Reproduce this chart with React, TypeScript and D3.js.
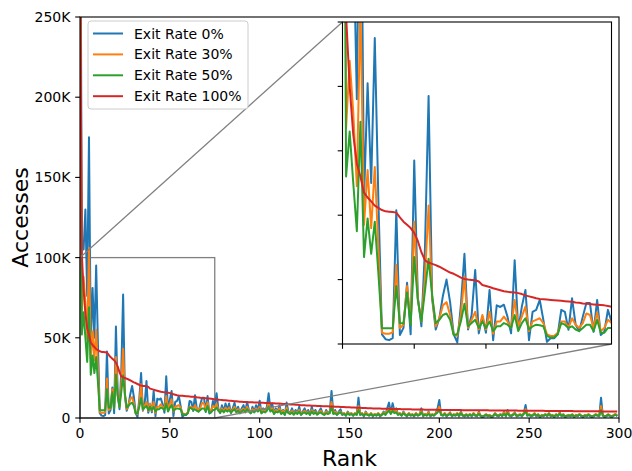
import React from "react";
import * as d3 from "d3";

// values in thousands of accesses, index = rank
const blue = [
  400,110,105,130,76,175,45,81,50,95,
  45,3,1.5,1.2,1.8,41.5,2.8,5,19,3,
  57,14.5,5.5,30,77,14,4.5,8,15,20,
  13,3,0.5,12,28,4.5,9,23,3.3,8.5,
  3.5,16.8,1.2,12,11.5,12.2,8.5,3.3,26,4.4,
  11.6,16.8,1.2,10,10.6,13.7,7.5,0.7,1.8,1.8,
  3,10.6,10,4.4,14.2,6,4,8.5,12.7,12.7,
  3.8,13.7,2.8,3.8,10.6,7,
  15.5,6,3,8,4,9,5,9,3,6,
  9.5,4,7,3,6,8,4,10,5,3,
  7,4,8,5,10.8,3,6,4,7,15.4,
  5,9,3,6,4,8,3,5,2,9.6,
  4,3,6,2.5,5,3,7,2,4,6,
  3,5,2,7,3,5,2.5,4,6,3,
  2,5,3,4,16.9,3,5,2,4,5.4,
  2,3,1.5,4,2,3,1.5,3,2,12.7,
  2,3,1,4,2,1.5,3,1,2.5,1.5,
  3,1,2,4,2,6,9.6,3,9.2,4,
  6,2,3,1.5,4,2,1,3,1.5,2,
  1,3,1.5,2,6,1,2.5,1.5,4,1,
  2,1.5,3,6,11.2,2,1.5,3,1,2,
  3.5,1,2,1.5,3,1,4,1.5,1,2,
  1,2.5,1,3,1.5,1,4,1,0.5,1,
  2,1,1.5,0.5,1,3,1.5,1,2.5,1,
  4,1,5,1.5,1,2,3.5,1,1.5,2,
  1,3,8.1,1.5,2,1,1.5,3,1,2,
  0.5,1.5,1,2.5,1,3,1,1.5,0.5,2,
  1,3.5,1,2,0.5,1,1.5,1,2,0.5,
  1.5,1,2.5,1,0.5,1.5,1,2,1,0.5,
  1,2,1.5,1,12.7,1.5,0.5,1,2,1,
  0.5,1.5,2.5,1,
];

const orange = [
  340,67,88,72,49,106,37,54,36,55,
  30,3.5,3.2,3.2,3.6,24.6,5,6,18,6.4,
  38,14,7,21,43,14.5,5.5,8,12,13,
  9,3,2.5,9,21,5,7.5,10,4.5,9,
  4.5,10,3.2,7,7,8.5,7,5,13.7,5.5,
  8.5,11.6,4,7,7.5,8,6.5,3,2.5,2.5,
  3.5,7,7,5,8,6,5,6.5,9.5,9,
  5,9.8,4,5,7.5,6.5,
  9,5,3.5,6,4,6.5,4.5,6.5,3.5,5,
  7,4,5.5,3.5,5,6,4,7,4.5,3.5,
  5.5,4,6,4.5,7,3.5,5,4,5.5,9.5,
  4.5,6.5,3,5,4,6,3,4.5,2.5,6.5,
  3.5,3,4.5,2.5,4,3,5,2.5,3.5,4.5,
  3,4,2.5,5,3,4,2.5,3.5,4.5,3,
  2.5,4,3,3.5,10,3,4,2.5,3.5,4,
  2.5,3,2,3.5,2.5,3,2,3,2.5,7.5,
  2.5,3,1.5,3.5,2.5,2,3,1.5,2.5,2,
  3,1.5,2.5,3.5,2.5,4.5,6,3,6,3.5,
  4.5,2.5,3,2,3.5,2.5,1.5,3,2,2.5,
  1.5,3,2,2.5,4.5,1.5,2.5,2,3.5,1.5,
  2.5,2,3,4.5,7,2.5,2,3,1.5,2.5,
  3,1.5,2.5,2,3,1.5,3.5,2,1.5,2.5,
  1.5,2.5,1.5,3,2,1.5,3.5,1.5,1,1.5,
  2.5,1.5,2,1,1.5,3,2,1.5,2.5,1.5,
  3.5,1.5,4,2,1.5,2.5,3,1.5,2,2.5,
  1.5,3,5.5,2,2.5,1.5,2,3,1.5,2.5,
  1,2,1.5,2.5,1.5,3,1.5,2,1,2.5,
  1.5,3,1.5,2.5,1,1.5,2,1.5,2.5,1,
  2,1.5,2.5,1.5,1,2,1.5,2.5,1.5,1,
  1.5,2.5,2,1.5,7.5,2,1,1.5,2.5,1.5,
  1,2,2.5,1.5,
];

const green = [
  290,52,66,50,35,69,27,39,28,38,
  22,4.9,4.9,4.9,4.9,18,6.5,6.4,16,5.9,
  27,13.7,7,16.5,26.5,15,6.5,7.5,9,9.5,
  7.5,2.8,3,7,12.5,5.5,6.5,7.5,5,7,
  5,7,4,5.5,5.5,6.5,6,5,9,4,
  6.5,8,4.5,5.5,6,5.8,5.5,2.5,2,2,
  3,6.5,6,5,5.5,4.5,4,5,6,6,
  4,7.5,3.5,3.5,5,5,
  6.5,4.5,3.5,5,3.5,5,4,5,3.5,4.5,
  5.5,3.5,4.5,3,4,5,3.5,5.5,4,3,
  4.5,3.5,5,4,5.5,3,4,3.5,4.5,7,
  4,5,2.5,4,3.5,4.5,2.5,3.5,2,5,
  3,2.5,3.5,2,3.5,2.5,4,2,3,3.5,
  2.5,3.5,2,4,2.5,3.5,2,3,3.5,2.5,
  2,3,2.5,3,7,2.5,3,2,3,3.5,
  2,2.5,1.5,3,2,2.5,1.5,2.5,2,5,
  2,2.5,1.5,2.5,2,1.5,2.5,1.5,2,1.5,
  2.5,1.5,2,3,2,3.5,4.5,2.5,4.5,3,
  3.5,2,2.5,1.5,3,2,1.5,2.5,1.5,2,
  1.5,2.5,1.5,2,3.5,1.5,2,1.5,2.5,1.5,
  2,1.5,2.5,3.5,5,2,1.5,2.5,1.5,2,
  2.5,1.5,2,1.5,2.5,1.5,3,1.5,1.5,2,
  1.5,2,1.5,2.5,1.5,1.5,2.5,1.5,1,1.5,
  2,1.5,1.5,1,1.5,2.5,1.5,1.5,2,1.5,
  2.5,1.5,3,1.5,1.5,2,2.5,1.5,1.5,2,
  1.5,2.5,4,1.5,2,1.5,1.5,2.5,1.5,2,
  1,1.5,1.5,2,1.5,2.5,1.5,1.5,1,2,
  1.5,2.5,1.5,2,1,1.5,1.5,1.5,2,1,
  1.5,1.5,2,1.5,1,1.5,1.5,2,1.5,1,
  1.5,2,1.5,1.5,5,1.5,1,1.5,2,1.5,
  1,1.5,2,1.5,
];

const red = [
  300,102,80,65,56,52,47,45.5,44.3,43,
  42.3,41.6,41.2,41.1,41,40.8,39.3,38,37,36,
  34.5,32,28.5,26,25.3,24.9,24.5,24,23.4,22.8,
  22.2,21.8,21.2,20.6,20.2,20,19.9,19.8,19.4,18.3,
  18,17.7,17.3,17,16.7,16.4,16.2,16.1,16,15.8,
  15.5,15.1,14.8,14.5,14.2,14,13.9,13.8,13.7,13.6,
  13.5,13.4,13.3,13.2,13.1,12.9,12.8,12.6,12.5,12.4,
  12.3,12.2,12.1,12,11.8,11.6,
  11.5,11.4,11.3,11.2,11.1,11.0,10.9,10.8,10.7,10.6,
  10.5,10.4,10.3,10.2,10.1,10.0,9.95,9.9,9.85,9.8,
  9.75,9.7,9.65,9.6,9.55,9.5,9.45,9.4,9.35,9.3,
  9.25,9.2,9.15,9.1,9.05,9.0,8.9,8.8,8.7,8.6,
  8.5,8.45,8.4,8.35,8.3,8.2,8.1,8.0,7.95,7.9,
  7.85,7.8,7.75,7.7,7.65,7.6,7.55,7.5,7.45,7.4,
  7.35,7.3,7.25,7.2,7.15,7.1,7.05,7.0,6.95,6.9,
  6.85,6.8,6.75,6.7,6.65,6.6,6.55,6.5,6.45,6.4,
  6.35,6.3,6.25,6.2,6.15,6.1,6.05,6.0,5.95,5.9,
  5.88,5.85,5.82,5.8,5.77,5.74,5.71,5.68,5.65,5.62,
  5.6,5.57,5.54,5.51,5.48,5.45,5.42,5.4,5.38,5.36,
  5.34,5.32,5.3,5.28,5.26,5.24,5.22,5.2,5.18,5.16,
  5.14,5.12,5.1,5.08,5.06,5.04,5.02,5.0,4.99,4.98,
  4.97,4.96,4.95,4.94,4.93,4.92,4.91,4.9,4.89,4.88,
  4.87,4.86,4.85,4.84,4.83,4.82,4.81,4.8,4.79,4.78,
  4.77,4.76,4.75,4.74,4.73,4.72,4.71,4.7,4.69,4.68,
  4.67,4.66,4.65,4.64,4.63,4.62,4.61,4.6,4.59,4.58,
  4.57,4.56,4.55,4.54,4.53,4.52,4.51,4.5,4.49,4.48,
  4.47,4.46,4.45,4.44,4.43,4.42,4.41,4.4,4.39,4.38,
  4.37,4.36,4.35,4.34,4.33,4.32,4.31,4.3,4.29,4.28,
  4.27,4.26,4.25,4.24,4.23,4.22,4.21,4.2,4.19,4.18,
  4.17,4.16,4.15,4.14,4.13,4.12,4.11,4.1,4.09,4.08,
  4.07,4.06,4.05,4.04,
];

const seriesNames = ["Exit Rate 0%", "Exit Rate 30%", "Exit Rate 50%", "Exit Rate 100%"];
const seriesColors = ["#1f77b4", "#ff7f0e", "#2ca02c", "#d62728"];
const seriesData = [blue, orange, green, red];

const xTicks = [0, 50, 100, 150, 200, 250, 300];
const yTicks = [0, 50, 100, 150, 200, 250];
const yTickLabels = ["0", "50K", "100K", "150K", "200K", "250K"];
const insetXTicks = [0, 20, 40, 60];
const insetYTicks = [0, 20, 40, 60, 80, 100];
const zoomRange = { x: [0, 75], y: [0, 100] };

const FONT = "DejaVu Sans, sans-serif";

export default function App() {
  const W = 632, H = 471;
  const L = 80, R = 619, T = 17, B = 418;
  const x = d3.scaleLinear().domain([0, 300]).range([L, R]);
  const y = d3.scaleLinear().domain([0, 250]).range([B, T]);

  const iL = 342.5, iR = 611.5, iT = 22, iB = 344;
  const ix = d3.scaleLinear().domain(zoomRange.x).range([iL, iR]);
  const iy = d3.scaleLinear().domain(zoomRange.y).range([iB, iT]);

  const mainLine = d3.line<number>().x((_, i) => x(i)).y((d) => y(d));
  const insetLine = d3.line<number>().x((_, i) => ix(i)).y((d) => iy(d));

  const rx0 = x(zoomRange.x[0]), rx1 = x(zoomRange.x[1]);
  const ry0 = y(zoomRange.y[0]), ry1 = y(zoomRange.y[1]);

  const tickLen = 4.8;
  const legX = 88, legY = 21, legW = 160, legH = 88;

  return (
    <svg width={W} height={H} style={{ position: "absolute", left: 0, top: 0, background: "#fff" }} fontFamily={FONT}>
      <defs>
        <clipPath id="mainClip"><rect x={L} y={T} width={R - L} height={B - T} /></clipPath>
        <clipPath id="insetClip"><rect x={iL} y={iT} width={iR - iL} height={iB - iT} /></clipPath>
      </defs>
      <rect x={0} y={0} width={W} height={H} fill="#fff" />
      {/* zoom rectangle */}
      <rect x={rx0} y={ry1} width={rx1 - rx0} height={ry0 - ry1} fill="none" stroke="#808080" strokeWidth={1.3} />
      <g clipPath="url(#mainClip)">
        {seriesData.map((d, i) => (
          <path key={i} d={mainLine(d) || ""} fill="none" stroke={seriesColors[i]} strokeWidth={2} strokeLinejoin="round" />
        ))}
      </g>
      {/* connectors */}
      <line x1={rx0} y1={ry1} x2={iL} y2={iT} stroke="#808080" strokeWidth={1.3} />
      <line x1={rx1} y1={ry0} x2={iR} y2={iB} stroke="#808080" strokeWidth={1.3} />
      {/* main axes frame */}
      <rect x={L} y={T} width={R - L} height={B - T} fill="none" stroke="#000" strokeWidth={1.1} />
      {xTicks.map((t) => (
        <g key={"x" + t}>
          <line x1={x(t)} x2={x(t)} y1={B} y2={B + tickLen} stroke="#000" strokeWidth={1.1} />
          <text x={x(t)} y={438} fontSize={14} textAnchor="middle">{t}</text>
        </g>
      ))}
      {yTicks.map((t, i) => (
        <g key={"y" + t}>
          <line x1={L - tickLen} x2={L} y1={y(t)} y2={y(t)} stroke="#000" strokeWidth={1.1} />
          <text x={L - tickLen - 4.8} y={y(t) + 5} fontSize={14} textAnchor="end">{yTickLabels[i]}</text>
        </g>
      ))}
      <text x={(L + R) / 2} y={466} fontSize={22} textAnchor="middle">Rank</text>
      <text transform={`translate(28,${(T + B) / 2}) rotate(-90)`} fontSize={22} textAnchor="middle">Accesses</text>
      {/* legend */}
      <rect x={legX} y={legY} width={legW} height={legH} rx={3} fill="#fff" fillOpacity={0.8} stroke="#cccccc" strokeWidth={1} />
      {seriesNames.map((n, i) => (
        <g key={n}>
          <line x1={93} x2={123} y1={33.5 + i * 20.9} y2={33.5 + i * 20.9} stroke={seriesColors[i]} strokeWidth={2} />
          <text x={134} y={33.5 + i * 20.9 + 5} fontSize={14}>{n}</text>
        </g>
      ))}
      {/* inset */}
      <rect x={iL} y={iT} width={iR - iL} height={iB - iT} fill="#fff" />
      <g clipPath="url(#insetClip)">
        {seriesData.map((d, i) => (
          <path key={i} d={insetLine(d.slice(0, 80)) || ""} fill="none" stroke={seriesColors[i]} strokeWidth={2} strokeLinejoin="round" />
        ))}
      </g>
      <rect x={iL} y={iT} width={iR - iL} height={iB - iT} fill="none" stroke="#000" strokeWidth={1.1} />
      {insetXTicks.map((t) => (
        <line key={"ix" + t} x1={ix(t)} x2={ix(t)} y1={iB} y2={iB + tickLen} stroke="#000" strokeWidth={1.1} />
      ))}
      {insetYTicks.map((t) => (
        <line key={"iy" + t} x1={iL - tickLen} x2={iL} y1={iy(t)} y2={iy(t)} stroke="#000" strokeWidth={1.1} />
      ))}
    </svg>
  );
}
